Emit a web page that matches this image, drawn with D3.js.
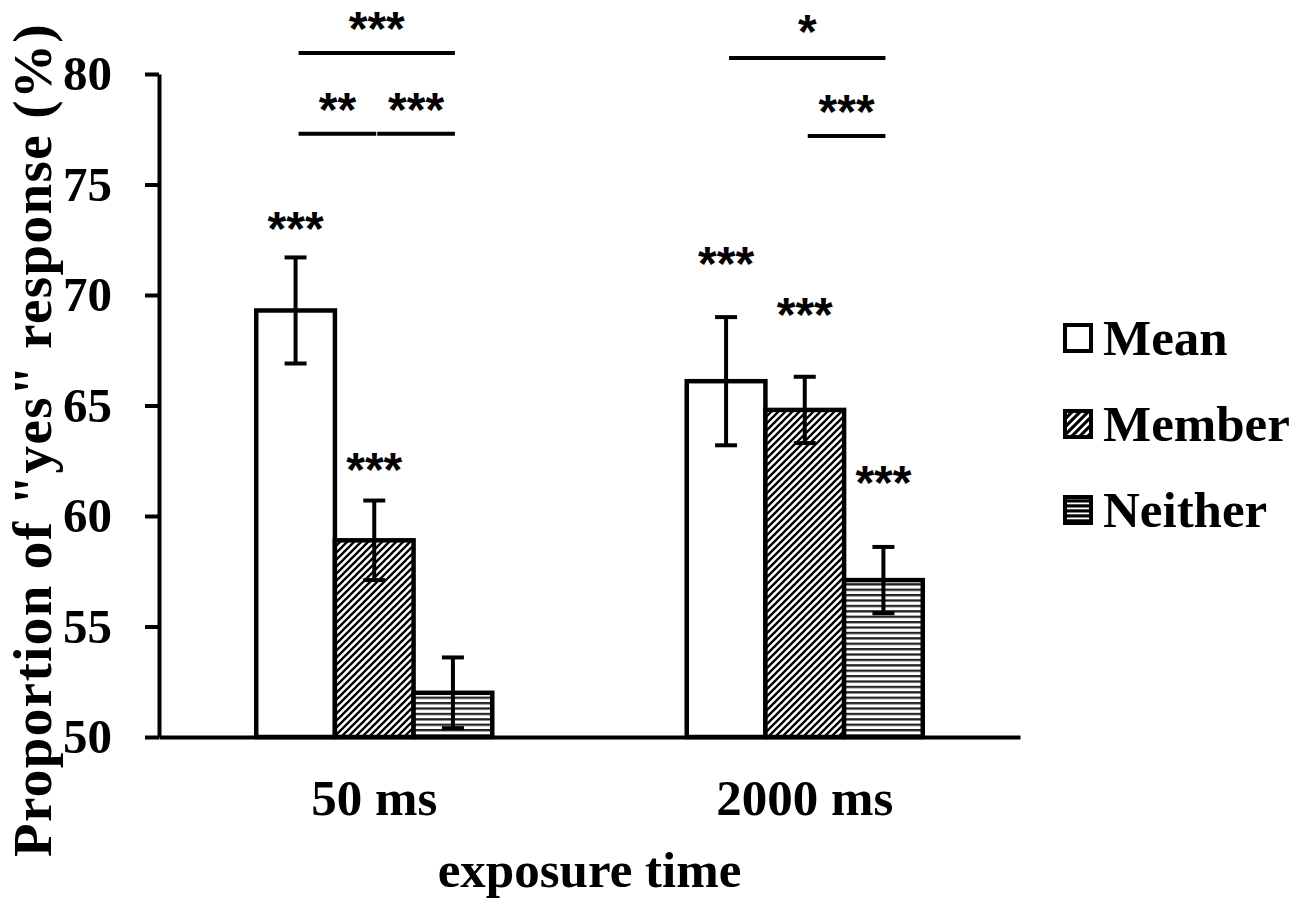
<!DOCTYPE html>
<html>
<head>
<meta charset="utf-8">
<script src="https://cdn.jsdelivr.net/npm/d3@7"></script>
<style>
  html, body { margin: 0; padding: 0; background: #fff; }
  svg { display: block; }
  text { font-family: "Liberation Serif", "Times New Roman", serif; font-weight: bold; fill: #000; }
  .star { font-family: "Liberation Sans", Arial, sans-serif; font-weight: bold; }
</style>
</head>
<body>
<svg id="chart" width="1302" height="909"></svg>
<script>
// ---------- data ----------
const categories = ["50 ms", "2000 ms"];
const series = ["Mean", "Member", "Neither"];
const values50 = [69.3, 58.9, 52.0];
const values2000 = [66.1, 64.8, 57.1];
const errors50 = [2.4, 1.8, 1.6];
const errors2000 = [2.9, 1.5, 1.5];
const yTicks = [50, 55, 60, 65, 70, 75, 80];

// significance marks above individual bars (label, y position in % units)
const barStars50 = ["***", "***", ""];
const barStarY50 = [73.5, 62.6, 0];
const barStars2000 = ["***", "***", "***"];
const barStarY2000 = [71.9, 69.6, 62.0];

// pairwise comparison brackets
const bracketCategory = ["50 ms", "50 ms", "50 ms", "2000 ms", "2000 ms"];
const bracketFrom = ["Mean", "Mean", "Member", "Mean", "Member"];
const bracketTo = ["Neither", "Member", "Neither", "Neither", "Neither"];
const bracketY = [80.95, 77.3, 77.3, 80.72, 77.2];
const bracketLabel = ["***", "**", "***", "*", "***"];
const bracketLabelY = [82.55, 78.9, 78.9, 82.4, 78.8];

const valuesByCat = { "50 ms": values50, "2000 ms": values2000 };
const errorsByCat = { "50 ms": errors50, "2000 ms": errors2000 };
const starsByCat = { "50 ms": barStars50, "2000 ms": barStars2000 };
const starYByCat = { "50 ms": barStarY50, "2000 ms": barStarY2000 };

const data = [];
categories.forEach(c => series.forEach((s, i) => data.push({
  cat: c, ser: s, v: valuesByCat[c][i], e: errorsByCat[c][i],
  star: starsByCat[c][i], starY: starYByCat[c][i]
})));

// ---------- layout ----------
const svg = d3.select("#chart");
const plotL = 159, plotR = 1020, plotT = 74, plotB = 737;

const x = d3.scaleBand().domain(categories).range([plotL, plotR]).paddingInner(0).paddingOuter(0);
const xi = d3.scaleBand().domain(series).range([0, x.bandwidth()]).paddingInner(0).paddingOuter(1.236);
const y = d3.scaleLinear().domain([50, 80]).range([plotB, plotT]);
const cx = (c, s) => x(c) + xi(s) + xi.bandwidth() / 2;

// ---------- patterns ----------
const defs = svg.append("defs");
const pd = defs.append("pattern").attr("id", "diag").attr("patternUnits", "userSpaceOnUse")
  .attr("width", 7).attr("height", 7);
pd.append("rect").attr("width", 7).attr("height", 7).attr("fill", "#fff");
pd.append("path").attr("d", "M-1,1 L1,-1 M0,7 L7,0 M6,8 L8,6")
  .attr("stroke", "#000").attr("stroke-width", 2.3);

const ph = defs.append("pattern").attr("id", "horiz").attr("patternUnits", "userSpaceOnUse")
  .attr("width", 8).attr("height", 5.4);
ph.append("rect").attr("width", 8).attr("height", 5.4).attr("fill", "#fff");
ph.append("rect").attr("y", 0).attr("width", 8).attr("height", 2.3).attr("fill", "#222");

const pdl = defs.append("pattern").attr("id", "diagL").attr("patternUnits", "userSpaceOnUse")
  .attr("width", 8).attr("height", 8);
pdl.append("rect").attr("width", 8).attr("height", 8).attr("fill", "#000");
pdl.append("path").attr("d", "M-1,1 L1,-1 M0,8 L8,0 M7,9 L9,7")
  .attr("stroke", "#fff").attr("stroke-width", 2.6);

const phl = defs.append("pattern").attr("id", "horizL").attr("patternUnits", "userSpaceOnUse")
  .attr("width", 8).attr("height", 5);
phl.append("rect").attr("width", 8).attr("height", 5).attr("fill", "#000");
phl.append("rect").attr("y", 2.5).attr("width", 8).attr("height", 1.8).attr("fill", "#fff");

const fillOf = { Mean: "#fff", Member: "url(#diag)", Neither: "url(#horiz)" };
const legendFill = { Mean: "#fff", Member: "url(#diagL)", Neither: "url(#horizL)" };

// ---------- bars ----------
svg.append("g").selectAll("rect").data(data).join("rect")
  .attr("x", d => x(d.cat) + xi(d.ser))
  .attr("y", d => y(d.v))
  .attr("width", xi.bandwidth())
  .attr("height", d => y(50) - y(d.v))
  .attr("fill", d => fillOf[d.ser])
  .attr("stroke", "#000").attr("stroke-width", 4.5);

// ---------- error bars ----------
const eg = svg.append("g").attr("stroke", "#000").attr("stroke-width", 4);
data.forEach(d => {
  const xc = cx(d.cat, d.ser);
  eg.append("line").attr("x1", xc).attr("x2", xc).attr("y1", y(d.v + d.e)).attr("y2", y(d.v - d.e));
  eg.append("line").attr("x1", xc - 11).attr("x2", xc + 11).attr("y1", y(d.v + d.e)).attr("y2", y(d.v + d.e));
  eg.append("line").attr("x1", xc - 11).attr("x2", xc + 11).attr("y1", y(d.v - d.e)).attr("y2", y(d.v - d.e));
});

// ---------- axes ----------
const yAxis = svg.append("g").attr("transform", `translate(${plotL},0)`)
  .call(d3.axisLeft(y).tickValues(yTicks).tickSize(14).tickSizeOuter(0).tickPadding(33));
yAxis.select(".domain").attr("stroke-width", 4);
yAxis.selectAll(".tick line").attr("stroke-width", 4);
yAxis.selectAll(".tick text").attr("font-size", 49)
  .style("font-family", '"Liberation Serif", "Times New Roman", serif').style("font-weight", "bold");

const xAxis = svg.append("g").attr("transform", `translate(0,${plotB})`)
  .call(d3.axisBottom(x).tickSize(0).tickSizeOuter(0));
xAxis.select(".domain").attr("stroke-width", 4);
xAxis.selectAll(".tick text").attr("font-size", 51).attr("dy", null).attr("y", 78)
  .style("font-family", '"Liberation Serif", "Times New Roman", serif').style("font-weight", "bold");

// titles
svg.append("text").attr("x", (plotL + plotR) / 2).attr("y", 887).attr("text-anchor", "middle")
  .attr("font-size", 51).text("exposure time");
svg.append("text").attr("transform", "translate(51,440) rotate(-90)").attr("text-anchor", "middle")
  .attr("font-size", 55).attr("letter-spacing", 1.4).text('Proportion of "yes" response (%)');

// ---------- star labels above bars ----------
const starSize = 48;
svg.append("g").selectAll("text").data(data.filter(d => d.star)).join("text")
  .attr("class", "star").attr("font-size", starSize).attr("text-anchor", "middle")
  .attr("x", d => cx(d.cat, d.ser))
  .attr("y", d => y(d.starY) + starSize * 0.57)
  .text(d => d.star);

// ---------- brackets ----------
const bg = svg.append("g");
bracketCategory.forEach((c, i) => {
  const x1 = cx(c, bracketFrom[i]) + 3;
  const x2 = cx(c, bracketTo[i]) + 2;
  bg.append("line").attr("x1", x1).attr("x2", x2).attr("y1", y(bracketY[i])).attr("y2", y(bracketY[i]))
    .attr("stroke", "#000").attr("stroke-width", 4);
  bg.append("text").attr("class", "star").attr("font-size", starSize).attr("text-anchor", "middle")
    .attr("x", (x1 + x2) / 2).attr("y", y(bracketLabelY[i]) + starSize * 0.57).text(bracketLabel[i]);
});

// ---------- legend ----------
const lg = svg.append("g").attr("transform", "translate(1063,323)");
series.forEach((s, i) => {
  const row = lg.append("g").attr("transform", `translate(0,${i * 86})`);
  row.append("rect").attr("x", 2).attr("y", 2).attr("width", 26).attr("height", 26)
    .attr("fill", legendFill[s]).attr("stroke", "#000").attr("stroke-width", 4);
  row.append("text").attr("x", 40).attr("y", 32).attr("font-size", 51).text(s);
});
</script>
</body>
</html>
